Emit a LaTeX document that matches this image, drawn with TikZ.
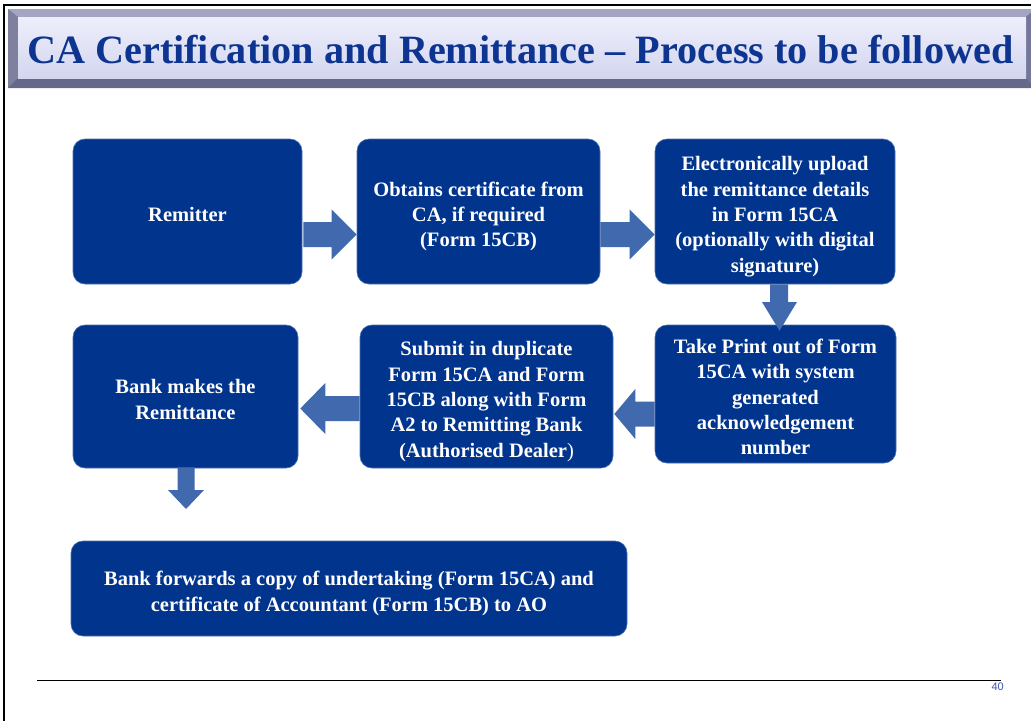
\documentclass[tikz,border=0pt]{standalone}
\usepackage{fontspec}
\setmainfont{Liberation Serif}
\newfontfamily\arialfont{Liberation Sans}
\usetikzlibrary{calc}
\definecolor{boxblue}{HTML}{00348D}
\definecolor{arrowblue}{HTML}{4169AE}
\definecolor{titleblue}{HTML}{0D3490}
\definecolor{barouter}{HTML}{6E7090}
\definecolor{bartop}{HTML}{A3A5C2}
\definecolor{barleft}{HTML}{7E809E}
\definecolor{barbottom}{HTML}{66688A}
\definecolor{barright}{HTML}{74769A}
\definecolor{paneltop}{HTML}{EEEEFB}
\definecolor{panelbot}{HTML}{D3D6EF}
\definecolor{pagenum}{HTML}{3C5AAA}
\newcommand{\boxlines}[1]{\raisebox{-5pt}[\height][\depth]{\begin{tabular}{@{}c@{}}#1\end{tabular}}}
\tikzset{
  procbox/.style={rectangle, rounded corners=12pt, fill=boxblue, draw=boxblue!70!white,
    line width=0.6pt, text=white, inner sep=0pt,
    font=\fontsize{20.5}{25.4}\selectfont\bfseries},
  blockarrow/.style={fill=arrowblue, draw=none}
}
\begin{document}
\begin{tikzpicture}[x=1pt,y=-1pt]
\useasboundingbox (0,0) rectangle (1031,721);
\fill[white] (0,0) rectangle (1031,721);
% slide frame
\draw[black, line width=2pt] (4,721) -- (4,5) -- (1031,5);
% title bar with bevel
\fill[barouter] (8,9) rectangle (1035,88);
\fill[bartop] (8,9) -- (1035,9) -- (1026,17) -- (18,17) -- cycle;
\fill[barleft] (8,9) -- (18,17) -- (18,78) -- (8,88) -- cycle;
\fill[barbottom] (8,88) -- (18,78) -- (1026,78) -- (1035,88) -- cycle;
\fill[barright] (1035,9) -- (1026,17) -- (1026,78) -- (1035,88) -- cycle;
\shade[top color=paneltop, bottom color=panelbot] (18,17) rectangle (1026,78);
\node[anchor=base west, inner sep=0pt, text=titleblue,
  font=\fontsize{40.2}{40}\selectfont\bfseries] (title) at (27,63)
  {CA Certification and Remittance -- Process to be followed};
% process boxes
\node[procbox, minimum width=229pt, minimum height=145pt] (b1) at (187.5,211.5) {\boxlines{Remitter}};
\node[procbox, minimum width=243pt, minimum height=145pt] (b2) at (478.5,211.5)
  {\boxlines{Obtains certificate from\\CA, if required\\(Form 15CB)}};
\node[procbox, minimum width=240pt, minimum height=145pt] (b3) at (775,211.5)
  {\boxlines{Electronically upload\\the remittance details\\in Form 15CA\\(optionally with digital\\signature)}};
\node[procbox, minimum width=241pt, minimum height=138pt] (b4) at (775.5,394)
  {\boxlines{Take Print out of Form\\15CA with system\\generated\\acknowledgement\\number}};
\node[procbox, minimum width=253pt, minimum height=143pt] (b5) at (486.5,396.5)
  {\boxlines{Submit in duplicate\\Form 15CA and Form\\15CB along with Form\\A2 to Remitting Bank\\(Authorised Dealer{\mdseries )}}};
\node[procbox, minimum width=225pt, minimum height=143pt] (b6) at (185.5,396.5)
  {\boxlines{Bank makes the\\Remittance}};
\node[procbox, minimum width=556pt, minimum height=95pt] (b7) at (349,588.5)
  {\boxlines{Bank forwards a copy of undertaking (Form 15CA) and\\certificate of Accountant (Form 15CB) to AO}};
% right block arrows (y centre 234.5)
\path let \p1=(b1.east), \p2=(b2.west) in
  [blockarrow] (\x1+1pt,222) -- (\x2-25pt,222) -- (\x2-25pt,209.5) -- (\x2,234.5)
  -- (\x2-25pt,259.5) -- (\x2-25pt,247) -- (\x1+1pt,247) -- cycle;
\path let \p1=(b2.east), \p2=(b3.west) in
  [blockarrow] (\x1,222) -- (\x2-25pt,222) -- (\x2-25pt,209.5) -- (\x2,234.5)
  -- (\x2-25pt,259.5) -- (\x2-25pt,247) -- (\x1,247) -- cycle;
% down arrow b3 -> b4
\path let \p1=(b3.south), \p2=(b4.north) in
  [blockarrow] (770,\y1) -- (788,\y1) -- (788,302) -- (797,302) -- (779.5,\y2-6pt)
  -- (762,302) -- (770,302) -- cycle;
% left arrows
\path let \p1=(b4.west), \p2=(b5.east) in
  [blockarrow] (\x1,401.5) -- (\x2+22pt,401.5) -- (\x2+22pt,389) -- (\x2+1pt,414)
  -- (\x2+22pt,439) -- (\x2+22pt,426.5) -- (\x1,426.5) -- cycle;
\path let \p1=(b5.west), \p2=(b6.east) in
  [blockarrow] (\x1,396) -- (\x2+27pt,396) -- (\x2+27pt,383) -- (\x2+2pt,408.5)
  -- (\x2+27pt,434) -- (\x2+27pt,421) -- (\x1,421) -- cycle;
% down arrow b6 -> b7
\path let \p1=(b6.south), \p2=(b7.north) in
  [blockarrow] (177.5,\y1+1pt) -- (194.5,\y1+1pt) -- (194.5,490) -- (204,490) -- (186,509)
  -- (168,490) -- (177.5,490) -- cycle;
% footer
\coordinate (fl) at (37,680);
\coordinate (fr) at (1001,680);
\draw[black, line width=1pt] (fl) -- (fr);
\node[anchor=base east, inner sep=0pt, text=pagenum, font=\arialfont\fontsize{11}{11}\selectfont] (pg) at (1004,690) {40};
\end{tikzpicture}
\end{document}
